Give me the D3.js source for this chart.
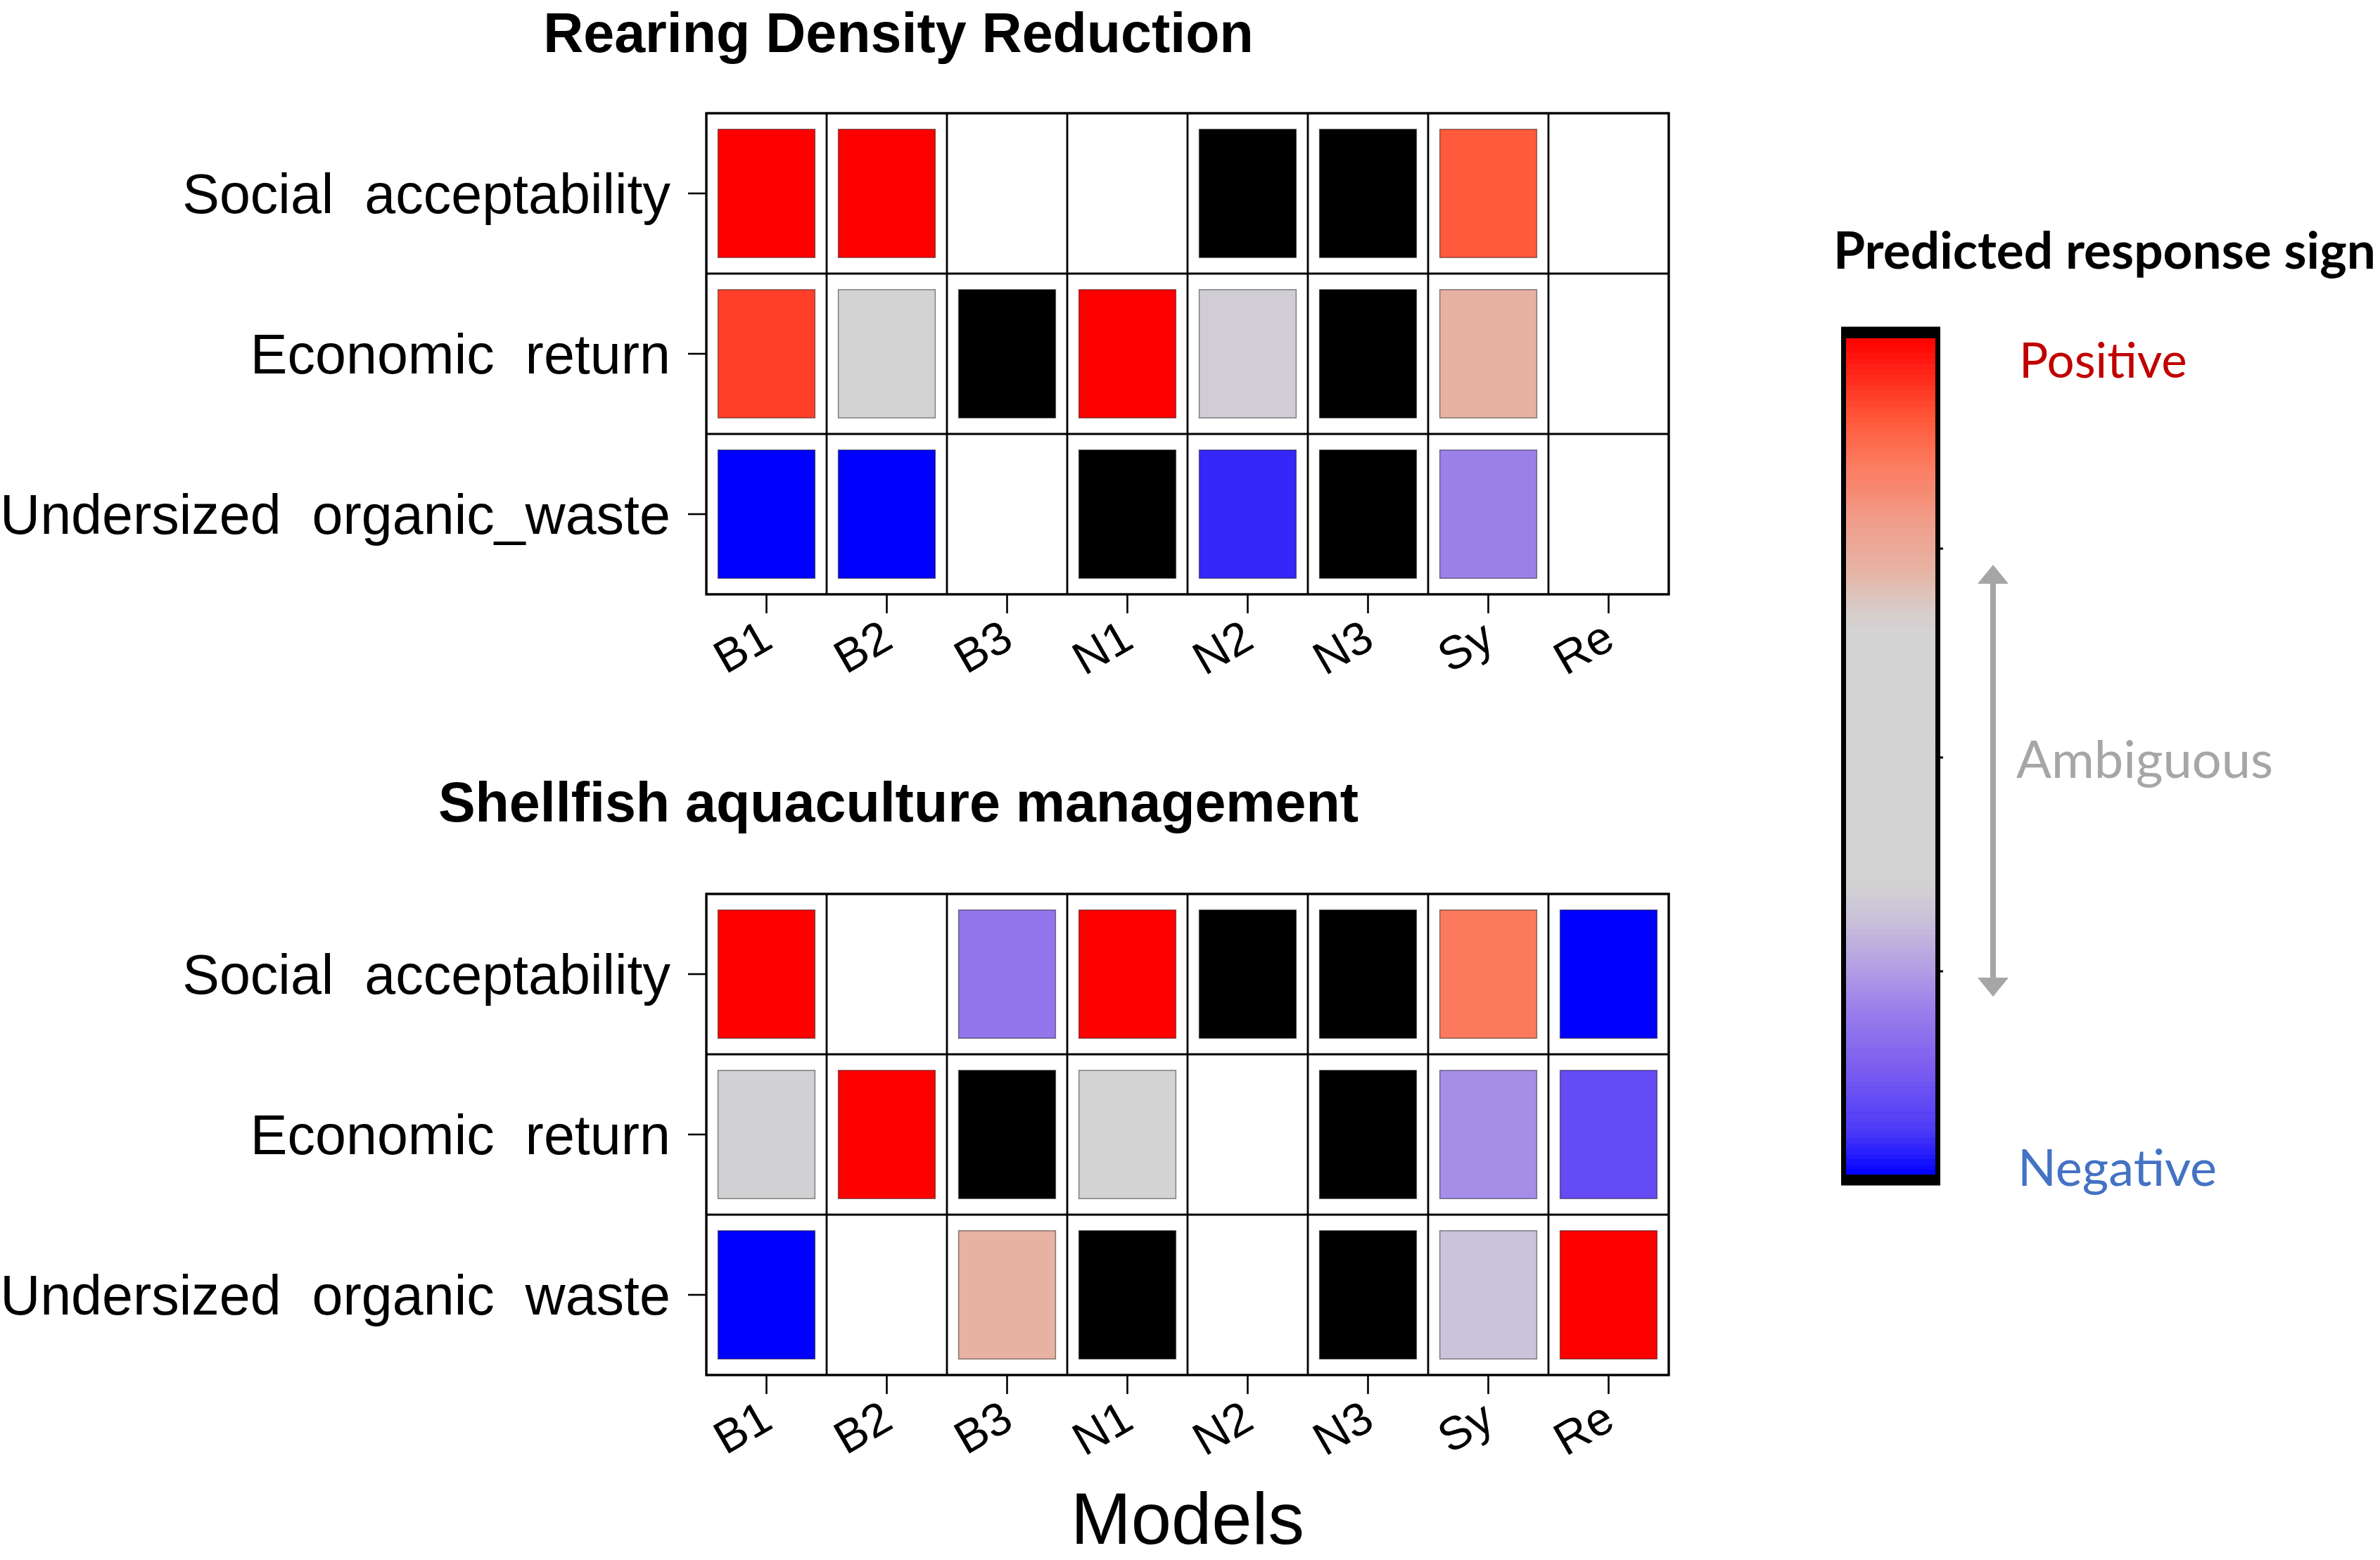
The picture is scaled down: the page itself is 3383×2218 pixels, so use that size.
<!DOCTYPE html>
<html>
<head>
<meta charset="utf-8">
<script src="https://cdn.jsdelivr.net/npm/d3@7"></script>
<style>
  html, body { margin: 0; padding: 0; background: #ffffff; }
  svg { display: block; }
</style>
</head>
<body>
<svg id="chart" width="3383" height="2218"></svg>
<script>
// ---------------- DATA ----------------
const models = ["B1", "B2", "B3", "N1", "N2", "N3", "Sy", "Re"];
const rowsRearing = ["Social  acceptability", "Economic  return", "Undersized  organic_waste"];
const rowsShellfish = ["Social  acceptability", "Economic  return", "Undersized  organic  waste"];
const panelTitles = ["Rearing Density Reduction", "Shellfish aquaculture management"];
const xAxisTitle = "Models";
// values: -1 (negative) .. 0 (ambiguous) .. +1 (positive); null = not present (white); "K" = black cell
const N = null, K = "K";
const rearingSocial   = [1, 1, N, N, K, K, 0.8, N];
const rearingEconomic = [0.86, 0, K, 1, -0.33, K, 0.45, N];
const rearingWaste    = [-1, -1, N, K, -0.93, K, -0.6, N];
const shellSocial     = [1, N, -0.64, 1, K, K, 0.7, -1];
const shellEconomic   = [-0.31, 1, K, 0, N, K, -0.56, -0.82];
const shellWaste      = [-1, N, 0.45, K, N, K, -0.38, 1];
// legend
const legendTitle = "Predicted response sign";
const legendLabels = ["Positive", "Ambiguous", "Negative"];
const signStops  = [-1, -0.9, -0.75, -0.6, -0.5, -0.4, -0.3, 0.3, 0.35, 0.45, 0.55, 0.7, 0.8, 1];
const signColors = ["#0000FF", "#4B38F8", "#7A5CF0", "#9C80EA", "#B4A0E4", "#C8BFDA", "#D3D3D3",
                    "#D3D3D3", "#D8CCC8", "#E8B2A2", "#EFA08E", "#FB7A5E", "#FF5A3C", "#FF0000"];

// ---------------- CHART ----------------
const svg = d3.select("#chart");
const color = d3.scaleLinear().domain(signStops).range(signColors).interpolate(d3.interpolateRgb).clamp(true);
const fill = v => v === K ? "#000000" : color(v);

const sansR = "'Liberation Sans', Arial, Helvetica, sans-serif";
const sansC = "Lato, 'Open Sans', sans-serif";

const panels = [
  { title: panelTitles[0], rows: rowsRearing, data: [rearingSocial, rearingEconomic, rearingWaste], top: 161, titleY: 74 },
  { title: panelTitles[1], rows: rowsShellfish, data: [shellSocial, shellEconomic, shellWaste], top: 1271, titleY: 1168 }
];

const left = 1004, right = 2372, rowH = 228;

panels.forEach(p => {
  const g = svg.append("g");
  const x = d3.scaleBand().domain(models).range([left, right]);
  const y = d3.scaleBand().domain(p.rows).range([p.top, p.top + rowH * p.rows.length]);
  const bw = x.bandwidth(), bh = y.bandwidth();

  // title
  g.append("text")
    .attr("x", 1277).attr("y", p.titleY)
    .attr("text-anchor", "middle")
    .style("font-family", sansR).style("font-weight", "bold").style("font-size", "79px")
    .text(p.title);

  // cells
  const cells = [];
  p.rows.forEach((r, i) => models.forEach((m, j) => cells.push({ r, m, v: p.data[i][j] })));
  g.selectAll("rect.cell").data(cells.filter(d => d.v !== null)).join("rect")
    .attr("class", "cell")
    .attr("x", d => x(d.m) + bw * 0.097)
    .attr("y", d => y(d.r) + bh * 0.1)
    .attr("width", bw * 0.806)
    .attr("height", bh * 0.8)
    .attr("fill", d => fill(d.v))
    .attr("stroke", "rgba(0,0,0,0.45)")
    .attr("stroke-width", 1.5);

  // grid lines
  g.selectAll("line.vg").data(models.slice(1)).join("line")
    .attr("x1", d => x(d)).attr("x2", d => x(d))
    .attr("y1", y.range()[0]).attr("y2", y.range()[1])
    .attr("stroke", "#000").attr("stroke-width", 2.8);
  g.selectAll("line.hg").data(p.rows.slice(1)).join("line")
    .attr("x1", left).attr("x2", right)
    .attr("y1", d => y(d)).attr("y2", d => y(d))
    .attr("stroke", "#000").attr("stroke-width", 2.8);
  g.append("rect")
    .attr("x", left).attr("y", y.range()[0])
    .attr("width", right - left).attr("height", y.range()[1] - y.range()[0])
    .attr("fill", "none").attr("stroke", "#000").attr("stroke-width", 3.4);

  // y axis
  const ya = g.append("g").attr("transform", `translate(${left},0)`)
    .call(d3.axisLeft(y).tickSize(26).tickPadding(25));
  ya.select(".domain").remove();
  ya.selectAll(".tick line").attr("stroke", "#000").attr("stroke-width", 2.6);
  ya.selectAll(".tick text")
    .attr("dy", null).attr("y", 28)
    .style("white-space", "pre")
    .style("font-family", sansR).style("font-size", "79px").attr("fill", "#000");

  // x axis
  const bottom = y.range()[1];
  const xa = g.append("g").attr("transform", `translate(0,${bottom})`)
    .call(d3.axisBottom(x).tickSize(27).tickPadding(0));
  xa.select(".domain").remove();
  xa.selectAll(".tick line").attr("stroke", "#000").attr("stroke-width", 2.6);
  xa.selectAll(".tick text")
    .attr("y", null).attr("dy", null)
    .attr("text-anchor", "end")
    .attr("transform", "translate(12,74) rotate(-30)")
    .style("font-family", sansR).style("font-size", "66px").attr("fill", "#000");
});

// x axis title
svg.append("text")
  .attr("x", (left + right) / 2).attr("y", 2195)
  .attr("text-anchor", "middle")
  .style("font-family", sansR).style("font-size", "103px")
  .text(xAxisTitle);

// ---------------- LEGEND ----------------
const lg = svg.append("g");
lg.append("text")
  .attr("x", 2606).attr("y", 382)
  .style("font-family", sansC).style("font-weight", "bold").style("font-size", "73px")
  .text(legendTitle);

const barX0 = 2617, barX1 = 2758, barY0 = 468, barY1 = 1682;
const gradTop = 481, gradBot = 1670;
const vScale = d3.scaleLinear().domain([1, -1]).range([gradTop, gradBot]);
const nBands = 160;
const bandVals = d3.range(nBands).map(i => 1 - (2 * i) / nBands);
lg.selectAll("rect.band").data(bandVals).join("rect")
  .attr("class", "band")
  .attr("x", barX0).attr("width", barX1 - barX0)
  .attr("y", d => vScale(d))
  .attr("height", (gradBot - gradTop) / nBands + 0.6)
  .attr("fill", d => color(d - 1 / nBands));
// black end bands and border
lg.append("rect").attr("x", barX0).attr("y", barY0).attr("width", barX1 - barX0).attr("height", gradTop - barY0).attr("fill", "#000");
lg.append("rect").attr("x", barX0).attr("y", gradBot).attr("width", barX1 - barX0).attr("height", barY1 - gradBot).attr("fill", "#000");
lg.append("rect").attr("x", barX0 + 3.5).attr("y", barY0).attr("width", barX1 - barX0 - 7).attr("height", barY1 - barY0)
  .attr("fill", "none").attr("stroke", "#000").attr("stroke-width", 7);
// small ticks on the right edge of the bar
lg.selectAll("line.bt").data([780, 1077, 1381]).join("line")
  .attr("x1", barX1).attr("x2", barX1 + 4).attr("y1", d => d).attr("y2", d => d)
  .attr("stroke", "#000").attr("stroke-width", 3);

// arrow
const arrowX = 2833, aTop = 803, aBot = 1417, aCol = "#A6A6A6";
lg.append("line").attr("x1", arrowX).attr("x2", arrowX).attr("y1", aTop + 20).attr("y2", aBot - 20)
  .attr("stroke", aCol).attr("stroke-width", 8);
lg.append("path").attr("d", d3.line()([[arrowX, aTop], [arrowX - 22, aTop + 27], [arrowX + 22, aTop + 27]]) + "Z").attr("fill", aCol);
lg.append("path").attr("d", d3.line()([[arrowX, aBot], [arrowX - 22, aBot - 27], [arrowX + 22, aBot - 27]]) + "Z").attr("fill", aCol);

const lblPos = [{ x: 2870, y: 537, c: "#C00000", s: 69 }, { x: 2866, y: 1106, c: "#A6A6A6", s: 74 }, { x: 2868, y: 1686, c: "#4472C4", s: 72 }];
lg.selectAll("text.lbl").data(legendLabels).join("text")
  .attr("class", "lbl")
  .attr("x", (d, i) => lblPos[i].x).attr("y", (d, i) => lblPos[i].y)
  .attr("fill", (d, i) => lblPos[i].c)
  .style("font-family", sansC).style("font-size", (d, i) => lblPos[i].s + "px")
  .text(d => d);
</script>
</body>
</html>
